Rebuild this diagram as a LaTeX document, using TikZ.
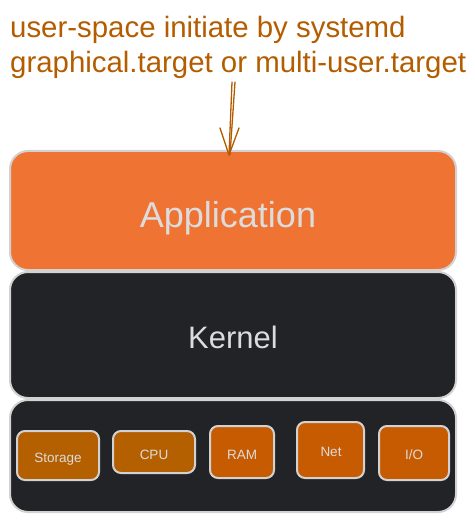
\documentclass[tikz,border=0pt]{standalone}
\usepackage{fontspec}
\setmainfont{Liberation Sans}
\definecolor{titlec}{HTML}{B35C00}
\definecolor{appfill}{HTML}{EF7434}
\definecolor{darkfill}{HTML}{222327}
\definecolor{edgec}{HTML}{D2D2D2}
\definecolor{labelc}{HTML}{DCDCDC}
\definecolor{hwA}{HTML}{B45F00}
\definecolor{hwB}{HTML}{C75B02}
\tikzset{
  layer/.style={draw=edgec, line width=2pt, rounded corners=18pt, inner sep=0pt},
  hwbox/.style={draw=edgec, line width=2pt, rounded corners=8pt, inner sep=0pt},
  lbl/.style={text=labelc, inner sep=0pt, anchor=base},
  ttl/.style={text=titlec, inner sep=0pt, anchor=base west, font=\fontsize{29.4}{35}\selectfont},
  sketch/.style={draw=titlec, line width=1.3pt, line cap=round, line join=round},
}
\begin{document}
\begin{tikzpicture}[x=1pt,y=-1pt]
\useasboundingbox (0,0) rectangle (475,521);
% title
\node[ttl] (t1) at (10,38) {user-space initiate by systemd};
\node[ttl] (t2) at (10,73) {graphical.target or multi-user.target};
% layers
\node[layer, fill=appfill, minimum width=446pt, minimum height=119pt] (app) at (233,210.5) {};
\node[layer, fill=darkfill, minimum width=446pt, minimum height=126pt] (kern) at (233,335) {};
\node[layer, fill=darkfill, minimum width=446pt, minimum height=112pt] (hw) at (233,456) {};
\node[lbl, font=\fontsize{36}{40}\selectfont] (applbl) at (228,227) {Application};
\node[lbl, font=\fontsize{31}{36}\selectfont] (kernlbl) at (233,348) {Kernel};
% hardware boxes
\node[hwbox, fill=hwA, minimum width=82pt, minimum height=49pt] (sto) at (58,455.5) {};
\node[hwbox, fill=hwA, minimum width=82pt, minimum height=42pt] (cpu) at (154,452) {};
\node[hwbox, fill=hwB, minimum width=64pt, minimum height=52pt] (ram) at (242,452) {};
\node[hwbox, fill=hwB, minimum width=67pt, minimum height=56pt] (net) at (330.5,450) {};
\node[hwbox, fill=hwB, minimum width=70pt, minimum height=54pt] (io) at (414,453) {};
\node[lbl, font=\fontsize{13.5}{16}\selectfont] (stol) at (58,462) {Storage};
\node[lbl, font=\fontsize{13.5}{16}\selectfont] (cpul) at (154,459) {CPU};
\node[lbl, font=\fontsize{13.5}{16}\selectfont] (raml) at (242,459) {RAM};
\node[lbl, font=\fontsize{13.5}{16}\selectfont] (netl) at (331,456) {Net};
\node[lbl, font=\fontsize{13.5}{16}\selectfont] (iol) at (414,459) {I/O};
% arrow
\coordinate (a1) at (232,82);
\coordinate (a2) at (235,82);
\coordinate (tip) at (229,155);
\coordinate (h1) at (220,128);
\coordinate (h2) at (239,128);
\draw[sketch] (a1) -- (tip);
\draw[sketch] (a2) -- ([xshift=1pt]tip);
\draw[sketch] (h1) -- (tip) -- (h2);
\end{tikzpicture}
\end{document}
